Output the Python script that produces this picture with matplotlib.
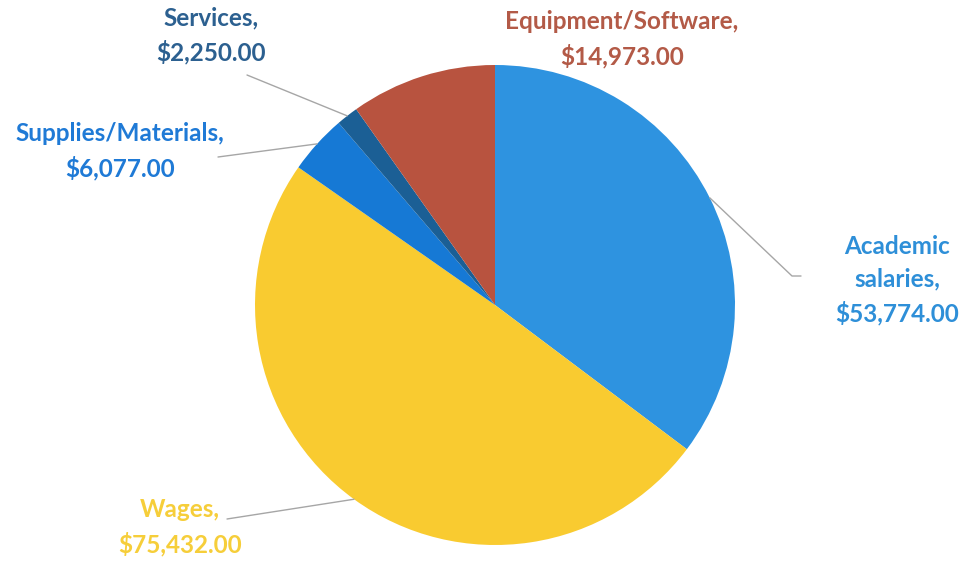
import numpy as np
import matplotlib
matplotlib.use("Agg")
import matplotlib.pyplot as plt

# budget categories, clockwise from 12 o'clock
categories = ["Academic\nsalaries,", "Wages,", "Supplies/Materials,", "Services,", "Equipment/Software,"]
amounts = [53774.00, 75432.00, 6077.00, 2250.00, 14973.00]
slice_colors = ["#2E93E0", "#F9CB30", "#1679D5", "#1B5F95", "#B8533F"]
text_colors = ["#2E8FD8", "#F6CE3A", "#1F7AD6", "#2C6090", "#B35A47"]

# label centre (pixels, y down) and leader path end points
label_pos = [(897, 280), (180, 527), (120, 151), (211, 35), (622, 39)]
leader_pts = [[(792, 276), (801, 276)], [(227, 519)], [(218, 157)], [(247, 75)], None]

W, H = 963, 561
cx, cy, R = 495, 305, 240

fig = plt.figure(figsize=(W / 100, H / 100), dpi=100)
ax = fig.add_axes([0, 0, 1, 1])

wedges, _ = ax.pie(amounts, colors=slice_colors, startangle=90, counterclock=False,
                   center=(cx, H - cy), radius=R, wedgeprops=dict(linewidth=0))
# pie() resets the limits, so set them afterwards
ax.set_xlim(0, W)
ax.set_ylim(0, H)
ax.set_aspect("equal")
ax.axis("off")

for i, w in enumerate(wedges):
    lab = categories[i] + "\n${:,.2f}".format(amounts[i])
    tx, ty = label_pos[i]
    ax.text(tx, H - ty, lab, ha="center", va="center", fontsize=17.5,
            fontweight="bold", family=["Lato", "DejaVu Sans"], color=text_colors[i],
            linespacing=1.5)
    if leader_pts[i] is None:
        continue
    mid = np.deg2rad((w.theta1 + w.theta2) / 2)
    xs = [cx + R * np.cos(mid)] + [p[0] for p in leader_pts[i]]
    ys = [H - cy + R * np.sin(mid)] + [H - p[1] for p in leader_pts[i]]
    ax.plot(xs, ys, color="#A6A6A6", lw=1.0, solid_capstyle="round")

plt.savefig("out.png", dpi=100)
